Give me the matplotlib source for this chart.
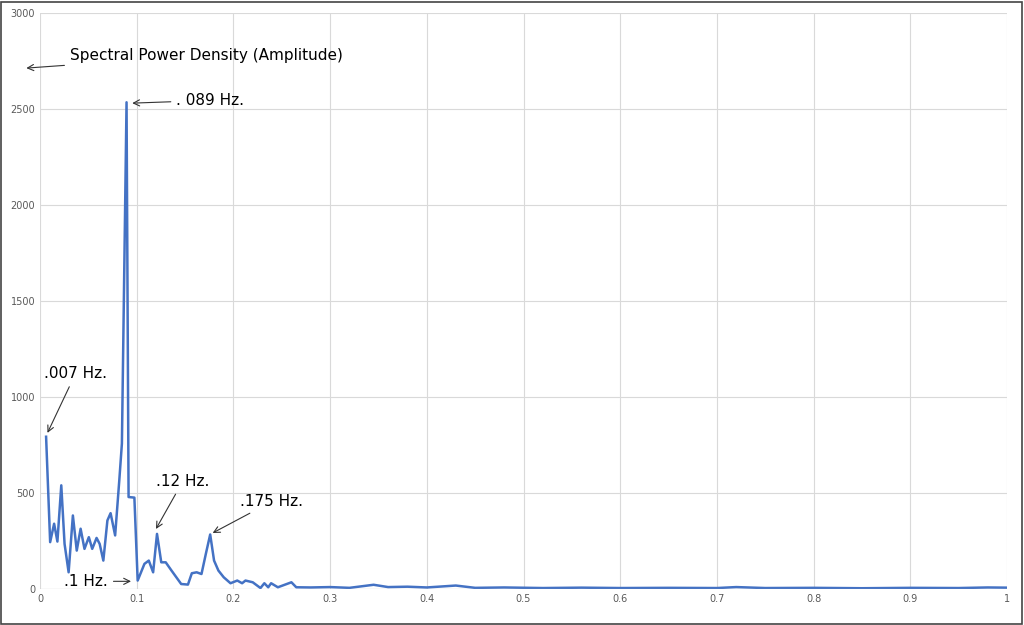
import matplotlib
matplotlib.use("Agg")
import matplotlib.pyplot as plt

# ── DATA ─────────────────────────────────────────────────────────────────────
freq = [0.0063, 0.0105, 0.0146, 0.018, 0.022, 0.0254, 0.0296, 0.034, 0.038, 0.042,
        0.046, 0.0505, 0.054, 0.0585, 0.0617, 0.0655, 0.0697, 0.073, 0.0777, 0.082,
        0.0847, 0.0895, 0.0916, 0.0976, 0.101, 0.108, 0.1125, 0.117, 0.121, 0.1254,
        0.13, 0.136, 0.141, 0.146, 0.153, 0.157, 0.162, 0.167, 0.1715, 0.176,
        0.18, 0.1845, 0.19, 0.197, 0.204, 0.209, 0.2125, 0.22, 0.228, 0.232,
        0.236, 0.239, 0.246, 0.26, 0.265, 0.28, 0.30, 0.32, 0.345, 0.36,
        0.38, 0.40, 0.43, 0.45, 0.48, 0.52, 0.56, 0.60, 0.65, 0.70,
        0.72, 0.75, 0.80, 0.85, 0.90, 0.95, 0.98, 1.0]
power = [793, 244, 340, 247, 540, 235, 87, 383, 200, 314,
         209, 270, 209, 266, 235, 148, 357, 395, 279, 566,
         758, 2535, 479, 476, 44, 131, 148, 87, 287, 139,
         139, 96, 61, 26, 23, 82, 87, 78, 183, 284,
         148, 96, 61, 30, 44, 30, 44, 35, 5, 30,
         9, 30, 9, 35, 9, 8, 10, 6, 22, 10,
         12, 8, 18, 6, 8, 5, 7, 5, 6, 5,
         10, 5, 6, 4, 6, 5, 8, 7]

x_ticks = [0, 0.1, 0.2, 0.3, 0.4, 0.5, 0.6, 0.7, 0.8, 0.9, 1]
x_labels = ["0", "0.1", "0.2", "0.3", "0.4", "0.5", "0.6", "0.7", "0.8", "0.9", "1"]
y_ticks = [0, 500, 1000, 1500, 2000, 2500, 3000]

# ── PLOT ─────────────────────────────────────────────────────────────────────
fig = plt.figure(figsize=(10.24, 6.25), dpi=100)
ax = fig.add_axes([40 / 1024, 1 - 589 / 625, 967 / 1024, 576 / 625])
fig.patches.append(plt.Rectangle((0.001, 0.002), 0.997, 0.995, transform=fig.transFigure,
                                 fill=False, edgecolor="#444444", linewidth=1.2))

ax.plot(freq, power, color="#4472C4", linewidth=1.8)

ax.set_xlim(0, 1)
ax.set_ylim(0, 3000)
ax.set_xticks(x_ticks)
ax.set_xticklabels(x_labels)
ax.set_yticks(y_ticks)
ax.tick_params(labelsize=7, length=0, colors="#595959")
ax.grid(color="#D9D9D9", linewidth=0.8)
for s in ax.spines.values():
    s.set_visible(False)
ax.axhline(0, color="#BFBFBF", linewidth=0.8)

arrow = dict(arrowstyle="->", color="#333333", linewidth=0.8)
fs = 11
ax.annotate("Spectral Power Density (Amplitude)", xy=(-0.017, 2712), xytext=(0.031, 2780),
            fontsize=fs, va="center", arrowprops=arrow, annotation_clip=False)
ax.annotate(". 089 Hz.", xy=(0.0925, 2530), xytext=(0.141, 2545),
            fontsize=fs, va="center", arrowprops=arrow)
ax.annotate(".007 Hz.", xy=(0.0065, 800), xytext=(0.004, 1120),
            fontsize=fs, va="center", arrowprops=arrow)
ax.annotate(".12 Hz.", xy=(0.1185, 300), xytext=(0.12, 560),
            fontsize=fs, va="center", ha="left", arrowprops=arrow)
ax.annotate(".175 Hz.", xy=(0.176, 285), xytext=(0.207, 455),
            fontsize=fs, va="center", arrowprops=arrow)
ax.annotate(".1 Hz.", xy=(0.097, 40), xytext=(0.025, 40),
            fontsize=fs, va="center", arrowprops=arrow)

plt.savefig("out.png", dpi=100)
